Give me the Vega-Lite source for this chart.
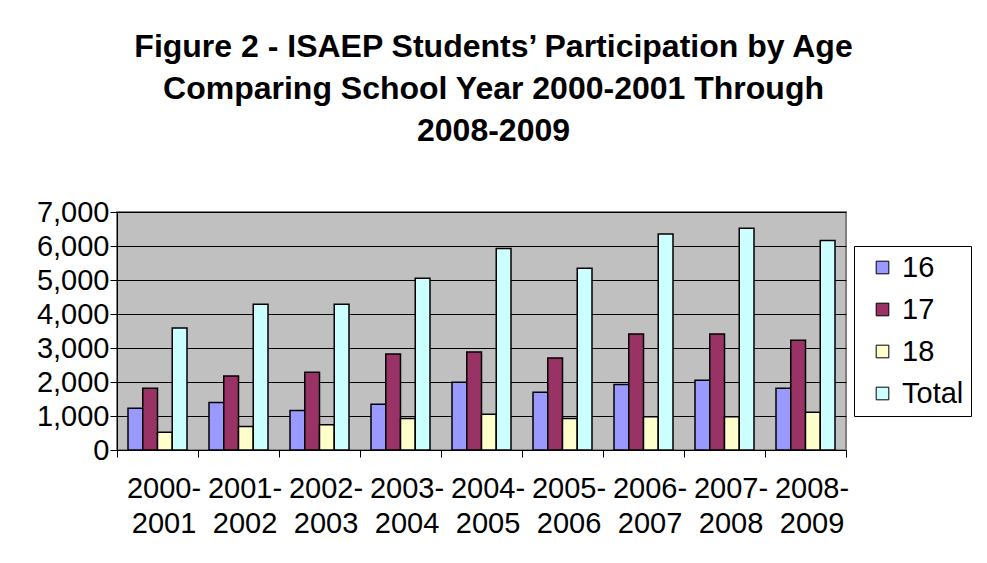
{
  "$schema": "https://vega.github.io/schema/vega-lite/v6.json",
  "autosize": {"type": "none"},
  "padding": {"left": 117, "top": 212, "right": 141, "bottom": 113},
  "width": 729,
  "height": 238,
  "background": "white",
  "title": {
    "text": ["Figure 2 - ISAEP Students’ Participation by Age", "Comparing School Year 2000-2001 Through", "2008-2009"],
    "font": "Liberation Sans",
    "fontSize": 32,
    "fontWeight": "bold",
    "lineHeight": 42,
    "color": "black",
    "anchor": "middle",
    "frame": "group",
    "dx": 12,
    "offset": 50
  },
  "data": {
    "values": [
      {"year": "2000-2001", "age": "16", "n": 1225},
      {"year": "2000-2001", "age": "17", "n": 1815},
      {"year": "2000-2001", "age": "18", "n": 520},
      {"year": "2000-2001", "age": "Total", "n": 3590},
      {"year": "2001-2002", "age": "16", "n": 1400},
      {"year": "2001-2002", "age": "17", "n": 2175},
      {"year": "2001-2002", "age": "18", "n": 690},
      {"year": "2001-2002", "age": "Total", "n": 4285},
      {"year": "2002-2003", "age": "16", "n": 1165},
      {"year": "2002-2003", "age": "17", "n": 2285},
      {"year": "2002-2003", "age": "18", "n": 745},
      {"year": "2002-2003", "age": "Total", "n": 4285},
      {"year": "2003-2004", "age": "16", "n": 1345},
      {"year": "2003-2004", "age": "17", "n": 2825},
      {"year": "2003-2004", "age": "18", "n": 930},
      {"year": "2003-2004", "age": "Total", "n": 5050},
      {"year": "2004-2005", "age": "16", "n": 1990},
      {"year": "2004-2005", "age": "17", "n": 2880},
      {"year": "2004-2005", "age": "18", "n": 1050},
      {"year": "2004-2005", "age": "Total", "n": 5930},
      {"year": "2005-2006", "age": "16", "n": 1695},
      {"year": "2005-2006", "age": "17", "n": 2705},
      {"year": "2005-2006", "age": "18", "n": 930},
      {"year": "2005-2006", "age": "Total", "n": 5345},
      {"year": "2006-2007", "age": "16", "n": 1930},
      {"year": "2006-2007", "age": "17", "n": 3410},
      {"year": "2006-2007", "age": "18", "n": 980},
      {"year": "2006-2007", "age": "Total", "n": 6355},
      {"year": "2007-2008", "age": "16", "n": 2050},
      {"year": "2007-2008", "age": "17", "n": 3410},
      {"year": "2007-2008", "age": "18", "n": 980},
      {"year": "2007-2008", "age": "Total", "n": 6520},
      {"year": "2008-2009", "age": "16", "n": 1815},
      {"year": "2008-2009", "age": "17", "n": 3225},
      {"year": "2008-2009", "age": "18", "n": 1110},
      {"year": "2008-2009", "age": "Total", "n": 6165}
    ]
  },
  "mark": {"type": "bar", "stroke": "black", "strokeWidth": 1.5},
  "encoding": {
    "x": {
      "field": "year",
      "type": "nominal",
      "sort": null,
      "title": null,
      "scale": {"paddingInner": 0, "paddingOuter": 0},
      "axis": {
        "labelAngle": 0,
        "labelExpr": "[substring(datum.label, 0, 5), substring(datum.label, 5)]",
        "labelFont": "Liberation Sans",
        "labelFontSize": 29,
        "labelColor": "black",
        "labelLineHeight": 35,
        "labelPadding": 17,
        "labelOffset": 6,
        "labelOverlap": false,
        "labelBound": false,
        "tickBand": "extent",
        "tickColor": "black",
        "tickSize": 7,
        "domainColor": "black",
        "domainWidth": 1,
        "grid": false
      }
    },
    "xOffset": {
      "field": "age",
      "type": "nominal",
      "sort": ["16", "17", "18", "Total"],
      "scale": {"paddingInner": 0, "paddingOuter": 0.746}
    },
    "y": {
      "field": "n",
      "type": "quantitative",
      "title": null,
      "scale": {"domain": [0, 7000], "nice": false},
      "axis": {
        "values": [0, 1000, 2000, 3000, 4000, 5000, 6000, 7000],
        "format": ",.0f",
        "labelFont": "Liberation Sans",
        "labelFontSize": 29,
        "labelColor": "black",
        "labelPadding": 1,
        "tickColor": "black",
        "tickSize": 7,
        "domainColor": "black",
        "gridColor": "black",
        "gridWidth": 1,
        "gridOpacity": 1
      }
    },
    "color": {
      "field": "age",
      "type": "nominal",
      "scale": {"domain": ["16", "17", "18", "Total"], "range": ["#9999FF", "#993366", "#FFFFCC", "#CCFFFF"]},
      "legend": {
        "title": null,
        "orient": "none",
        "legendX": 737,
        "legendY": 34,
        "symbolType": "square",
        "symbolSize": 160,
        "symbolStrokeColor": "black",
        "symbolStrokeWidth": 1,
        "symbolOffset": 7,
        "labelFont": "Liberation Sans",
        "labelFontSize": 29,
        "labelColor": "black",
        "labelOffset": 5,
        "rowPadding": 12,
        "padding": 7,
        "strokeColor": "black",
        "fillColor": "white"
      }
    }
  },
  "config": {
    "view": {"fill": "#C0C0C0", "stroke": "#808080", "strokeWidth": 2}
  }
}
